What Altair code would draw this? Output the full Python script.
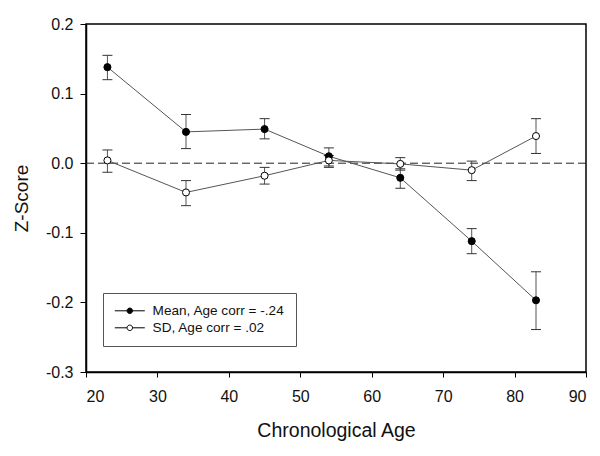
import altair as alt
import pandas as pd

ages = [23, 34, 45, 54, 64, 74, 83]
mean_vals = [0.138, 0.045, 0.049, 0.010, -0.021, -0.112, -0.197]
mean_lo = [0.120, 0.021, 0.035, -0.004, -0.036, -0.130, -0.239]
mean_hi = [0.155, 0.070, 0.064, 0.022, -0.008, -0.094, -0.156]
sd_vals = [0.004, -0.042, -0.018, 0.004, -0.001, -0.010, 0.039]
sd_lo = [-0.013, -0.061, -0.030, -0.006, -0.010, -0.025, 0.014]
sd_hi = [0.019, -0.025, -0.006, 0.011, 0.008, 0.003, 0.064]
series_names = ["Mean, Age corr = -.24", "SD, Age corr = .02"]
x_ticks = [20, 30, 40, 50, 60, 70, 80, 90]
y_ticks = [-0.3, -0.2, -0.1, 0.0, 0.1, 0.2]

rows = []
for name, v, lo, hi in [(series_names[0], mean_vals, mean_lo, mean_hi),
                        (series_names[1], sd_vals, sd_lo, sd_hi)]:
    for a, vv, l, h in zip(ages, v, lo, hi):
        rows.append({"age": a, "z": vv, "lo": l, "hi": h, "series": name})
df = pd.DataFrame(rows)

FONT = "Liberation Sans"

xscale = alt.Scale(domain=[20, 90], nice=False, zero=False)
yscale = alt.Scale(domain=[-0.3, 0.2], nice=False, zero=False)

xaxis = alt.Axis(values=x_ticks, title="Chronological Age", grid=False,
                 tickSize=5, labelPadding=11, labelFontSize=16, labelFont=FONT,
                 titleFont=FONT, titleFontSize=19.5, titleFontWeight="normal",
                 titleColor="#111", labelColor="#111", domainColor="black",
                 tickColor="black", titleY=58, titleBaseline="middle")
yaxis = alt.Axis(values=y_ticks, title="Z-Score", grid=False,
                 tickSize=6, labelPadding=7, labelFontSize=16, labelFont=FONT,
                 labelExpr="replace(format(datum.value, '.1f'), '\u2212', '-')",
                 titleFont=FONT, titleFontSize=19, titleFontWeight="normal",
                 titleColor="#111", labelColor="#111", domainColor="black",
                 tickColor="black", titleX=-65, titleY=174, titleAngle=-90,
                 titleBaseline="middle", titleAlign="center")

base = alt.Chart(df)

zero_line = alt.Chart(pd.DataFrame({"y": [0.0]})).mark_rule(
    color="#222", strokeDash=[8, 4], strokeWidth=1
).encode(y=alt.Y("y:Q", scale=yscale, axis=yaxis))

err = base.mark_rule(color="#555", strokeWidth=1).encode(
    x=alt.X("age:Q", scale=xscale, axis=xaxis),
    y=alt.Y("lo:Q", scale=yscale, axis=yaxis),
    y2="hi:Q",
)
cap_lo = base.mark_tick(orient="horizontal", size=10, thickness=1, color="#333", opacity=1).encode(
    x=alt.X("age:Q", scale=xscale), y=alt.Y("lo:Q", scale=yscale)
)
cap_hi = base.mark_tick(orient="horizontal", size=10, thickness=1, color="#333", opacity=1).encode(
    x=alt.X("age:Q", scale=xscale), y=alt.Y("hi:Q", scale=yscale)
)
lines = base.mark_line(color="#555", strokeWidth=1).encode(
    x=alt.X("age:Q", scale=xscale),
    y=alt.Y("z:Q", scale=yscale),
    detail="series:N",
)

legend_path = ("M-3,0H-0.55M0.55,0H3M0.55,0A0.55,0.55,0,1,1,-0.55,0"
               "A0.55,0.55,0,1,1,0.55,0Z")

points = base.mark_point(filled=True, shape="circle", size=50, stroke="black",
                         strokeWidth=1, opacity=1).encode(
    x=alt.X("age:Q", scale=xscale),
    y=alt.Y("z:Q", scale=yscale),
    fill=alt.Fill("series:N",
                  scale=alt.Scale(domain=series_names, range=["black", "white"]),
                  legend=alt.Legend(title=None, orient="none", legendX=17, legendY=269,
                                    strokeColor="#555", fillColor="white", padding=11,
                                    symbolType=legend_path, symbolSize=100,
                                    symbolStrokeColor="black", symbolStrokeWidth=1,
                                    symbolOffset=9, labelOffset=16, rowPadding=2,
                                    labelFont=FONT, labelFontSize=13.6, labelColor="#111")),
)

chart = alt.layer(zero_line, err, cap_lo, cap_hi, lines, points).properties(
    width=500, height=348,
    autosize=alt.AutoSizeParams(type="none"),
    padding={"left": 78, "top": 16, "right": 6, "bottom": 76},
).configure_view(stroke="black", strokeWidth=1.5).configure_axis(domainWidth=1.5, tickWidth=1)

chart.save("out.html", embed_options={"renderer": "svg", "actions": False})
